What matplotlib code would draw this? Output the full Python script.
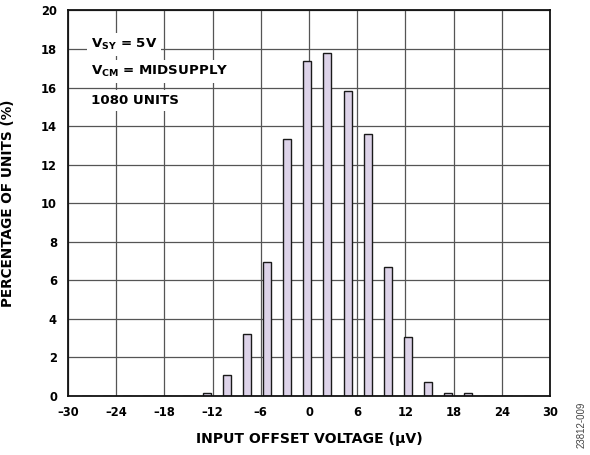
import numpy as np
import matplotlib.pyplot as plt

plt.rcParams['font.family'] = ['DejaVu Sans']
plt.rcParams['mathtext.fontset'] = 'dejavusans'

# histogram bins (input offset voltage, uV) and share of units in each (%)
bin_centers = [-27.7, -25.2, -22.7, -20.2, -17.7, -15.2, -12.7, -10.2, -7.7, -5.2,
               -2.7, -0.2, 2.3, 4.8, 7.3, 9.8, 12.3, 14.8, 17.3, 19.8,
               22.3, 24.8, 27.3]
percent = [0, 0, 0, 0, 0, 0, 0.14, 1.1, 3.2, 6.93,
           13.33, 17.36, 17.77, 15.84, 13.6, 6.67, 3.04, 0.71, 0.14, 0.14,
           0, 0, 0]

x_ticks = [-30, -24, -18, -12, -6, 0, 6, 12, 18, 24, 30]
x_tick_labels = ['\u201330', '\u201324', '\u201318', '\u201312', '\u20136',
                 '0', '6', '12', '18', '24', '30']
y_ticks = [0, 2, 4, 6, 8, 10, 12, 14, 16, 18, 20]

notes = [r'V$_{\mathbf{SY}}$ = 5V', r'V$_{\mathbf{CM}}$ = MIDSUPPLY', '1080 UNITS']
note_y = [18.05, 16.65, 15.15]

fig = plt.figure(figsize=(5.9, 4.55), dpi=100)
ax = fig.add_axes([0.1153, 0.1297, 0.8168, 0.8473])

ax.bar(bin_centers, percent, width=1.0, color='#ddd3e9', edgecolor='#1a1a1a',
       linewidth=1.0, zorder=3)

ax.set_xlim(-30, 30)
ax.set_ylim(0, 20)
ax.set_xticks(x_ticks)
ax.set_xticklabels(x_tick_labels)
ax.set_yticks(y_ticks)
ax.tick_params(length=0, labelsize=8.3)
ax.tick_params(axis='x', pad=7)
ax.tick_params(axis='y', pad=8)
for lbl in ax.get_xticklabels() + ax.get_yticklabels():
    lbl.set_fontweight('bold')

ax.grid(True, color='#555555', linewidth=0.9, zorder=1)
ax.set_axisbelow(True)
for sp in ax.spines.values():
    sp.set_linewidth(1.3)
    sp.set_color('#111111')
    sp.set_zorder(5)

ax.set_xlabel('INPUT OFFSET VOLTAGE (\u00b5V)', fontsize=10.1, fontweight='bold')
ax.set_ylabel('PERCENTAGE OF UNITS (%)', fontsize=9.8, fontweight='bold')
ax.xaxis.set_label_coords(0.5, -0.094)
ax.yaxis.set_label_coords(-0.11, 0.5)

for txt, yy in zip(notes, note_y):
    ax.text(-27.2, yy, txt, fontsize=9.6, fontweight='bold', va='baseline', ha='left',
            zorder=6,
            bbox=dict(boxstyle='square,pad=0.3', facecolor='white', edgecolor='none'))

fig.text(0.985, 0.066, '23812-009', rotation=90, fontsize=7, color='#444444',
         family='Liberation Sans', ha='center', va='center')

fig.savefig('out.png', dpi=100)
